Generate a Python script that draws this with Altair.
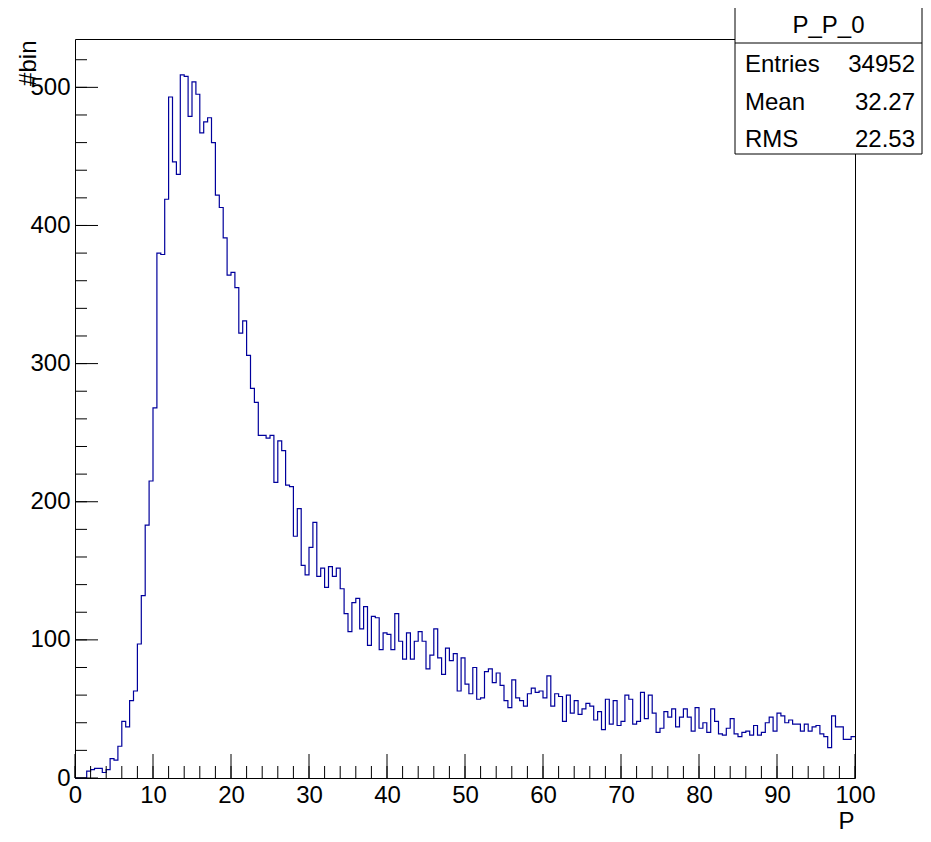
import altair as alt
import pandas as pd

# ---- data ----
bin_width = 0.5
counts = [
    0, 0, 0, 5, 6, 7, 7, 4, 6, 14,
    13, 23, 41, 37, 56, 63, 97, 132, 183, 215,
    268, 380, 379, 419, 493, 446, 437, 509, 508, 479,
    504, 495, 467, 475, 478, 460, 422, 413, 391, 364,
    366, 355, 322, 331, 306, 282, 272, 248, 248, 246,
    248, 214, 244, 237, 212, 211, 175, 195, 154, 147,
    167, 185, 146, 152, 138, 153, 146, 152, 137, 119,
    106, 127, 130, 108, 124, 96, 117, 116, 93, 105,
    104, 93, 119, 99, 86, 105, 86, 99, 106, 99,
    79, 89, 108, 87, 75, 94, 85, 90, 63, 87,
    68, 61, 80, 57, 58, 77, 79, 69, 76, 67,
    56, 51, 71, 58, 56, 52, 61, 65, 62, 63,
    58, 74, 52, 61, 59, 41, 60, 47, 56, 46,
    50, 54, 52, 42, 48, 35, 57, 39, 56, 38,
    41, 60, 57, 39, 41, 62, 43, 60, 47, 33,
    36, 48, 44, 50, 37, 44, 50, 44, 34, 51,
    36, 40, 33, 50, 41, 32, 31, 36, 43, 32,
    30, 33, 34, 31, 38, 31, 33, 40, 44, 34,
    47, 45, 40, 42, 39, 39, 34, 39, 34, 37,
    38, 32, 30, 22, 45, 37, 37, 28, 28, 30,
]
x_major_ticks = list(range(0, 101, 10))
x_minor_ticks = list(range(0, 101, 2))
y_major_ticks = list(range(0, 501, 100))
y_minor_ticks = list(range(0, 521, 20))
hist_title = "P_P_0"
stat_names = ["Entries", "Mean", "RMS"]
stat_values = ["34952", "32.27", "22.53"]
x_title = "P"
y_title = "#bin"

# ---- layout constants ----
W, H = 780, 739
FONT = "Liberation Sans"
LINE = "#00009c"

edges = [i * bin_width for i in range(len(counts))] + [len(counts) * bin_width]
hist_df = pd.DataFrame({"x": edges, "n": counts + [counts[-1]]})

xs = alt.Scale(domain=[0, 100], nice=False, zero=False)
ys = alt.Scale(domain=[0, 535], nice=False)

hist = alt.Chart(hist_df).mark_line(
    interpolate="step-after", color=LINE, strokeWidth=1.2
).encode(
    x=alt.X("x:Q", scale=xs, axis=alt.Axis(
        values=x_major_ticks, format="d", title=x_title, grid=False,
        ticks=False, tickSize=0, domain=False, labelFontSize=24,
        labelPadding=5, labelFlush=False, labelColor="black",
        titleFontSize=24, titleFontWeight="normal", titleColor="black",
        titleX=779, titleY=50, titleAlign="right", titleBaseline="alphabetic")),
    y=alt.Y("n:Q", scale=ys, axis=alt.Axis(
        values=y_major_ticks, format="d", title=y_title, grid=False,
        ticks=False, tickSize=0, domain=False, labelFontSize=24,
        labelPadding=5, labelColor="black",
        titleFontSize=24, titleFontWeight="normal", titleColor="black",
        titleAngle=270, titleX=-40, titleY=1, titleAlign="right",
        titleBaseline="alphabetic")),
)

def xticks(vals, length):
    return alt.Chart(pd.DataFrame({"v": vals})).mark_rule(
        color="black", strokeWidth=1).encode(
        x=alt.X("v:Q", scale=xs), y=alt.value(H), y2=alt.value(H - length))

def yticks(vals, length):
    return alt.Chart(pd.DataFrame({"v": vals})).mark_rule(
        color="black", strokeWidth=1).encode(
        y=alt.Y("v:Q", scale=ys), x=alt.value(0), x2=alt.value(length))

one = pd.DataFrame({"a": [0]})
BX0, BX1, BY0, BY1 = 660, 847, -34, 115
box = alt.Chart(one).mark_rect(fill="white", stroke="black", strokeWidth=1).encode(
    x=alt.value(BX0), x2=alt.value(BX1), y=alt.value(BY0), y2=alt.value(BY1))
divider = alt.Chart(one).mark_rule(color="black", strokeWidth=1).encode(
    x=alt.value(BX0), x2=alt.value(BX1), y=alt.value(4))
title_txt = alt.Chart(one).mark_text(
    font=FONT, fontSize=24, align="center", baseline="alphabetic", color="black"
).encode(x=alt.value((BX0 + BX1) / 2), y=alt.value(-6), text=alt.value(hist_title))

stat_layers = []
for i, (nm, vv) in enumerate(zip(stat_names, stat_values)):
    yy = 33 + i * 37.5
    stat_layers.append(alt.Chart(one).mark_text(
        font=FONT, fontSize=24, align="left", baseline="alphabetic", color="black"
    ).encode(x=alt.value(BX0 + 10), y=alt.value(yy), text=alt.value(nm)))
    stat_layers.append(alt.Chart(one).mark_text(
        font=FONT, fontSize=24, align="right", baseline="alphabetic", color="black"
    ).encode(x=alt.value(BX1 - 7), y=alt.value(yy), text=alt.value(vv)))

chart = alt.layer(
    hist,
    xticks(x_minor_ticks, 12), xticks(x_major_ticks, 24),
    yticks(y_minor_ticks, 12), yticks(y_major_ticks, 23),
    box, divider, title_txt, *stat_layers,
).properties(
    width=W, height=H,
    autosize=alt.AutoSizeParams(type="none"),
    padding={"left": 67, "top": 31, "right": 68, "bottom": 56},
    background="white",
).configure(
    font=FONT
).configure_view(
    stroke="black", strokeWidth=1
)

chart.save("out.html", embed_options={"renderer": "svg", "actions": False})
